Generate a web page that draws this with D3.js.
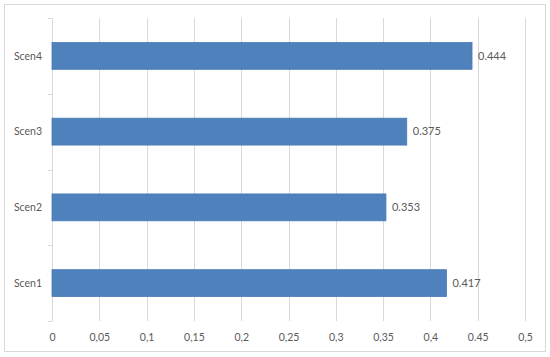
<!DOCTYPE html>
<html>
<head>
<meta charset="utf-8">
<script src="https://cdn.jsdelivr.net/npm/d3@7/dist/d3.min.js"></script>
<style>
  html, body { margin: 0; padding: 0; background: #fff; }
  svg { display: block; }
  text { font-family: Lato, "Open Sans", sans-serif; fill: #595959; }
</style>
</head>
<body>
<svg id="chart" width="550" height="357"></svg>
<script>
const categories = ["Scen1", "Scen2", "Scen3", "Scen4"];
const values = [0.417, 0.353, 0.375, 0.444];
const valueLabels = ["0.417", "0.353", "0.375", "0.444"];
const tickValues = [0, 0.05, 0.1, 0.15, 0.2, 0.25, 0.3, 0.35, 0.4, 0.45, 0.5];
const tickLabels = ["0", "0,05", "0,1", "0,15", "0,2", "0,25", "0,3", "0,35", "0,4", "0.45", "0,5"];

(function () {
const svg = d3.select("#chart");

// outer border
svg.append("rect")
  .attr("x", 4.5).attr("y", 4.5)
  .attr("width", 541).attr("height", 347)
  .attr("fill", "#fff").attr("stroke", "#d9d9d9").attr("stroke-width", 1);

const pLeft = 52, pRight = 525, pTop = 18, pBottom = 321;

const x = d3.scaleLinear().domain([0, 0.5]).range([pLeft, pRight]);
const y = d3.scaleBand()
  .domain(categories.slice().reverse())
  .range([pTop, pBottom])
  .paddingInner(0.645)
  .paddingOuter(0.3225);

// gridlines
svg.append("g")
  .selectAll("line")
  .data(tickValues)
  .join("line")
  .attr("x1", d => Math.round(x(d)) + 0.5)
  .attr("x2", d => Math.round(x(d)) + 0.5)
  .attr("y1", pTop)
  .attr("y2", pBottom)
  .attr("stroke", "#d9d9d9")
  .attr("stroke-width", 1);

// category boundary ticks on the left axis
const step = (pBottom - pTop) / categories.length;
const boundaries = d3.range(categories.length + 1).map(i => pTop + i * step);
svg.append("g")
  .selectAll("line")
  .data(boundaries)
  .join("line")
  .attr("x1", pLeft - 4)
  .attr("x2", pLeft)
  .attr("y1", d => Math.round(d) + 0.5)
  .attr("y2", d => Math.round(d) + 0.5)
  .attr("stroke", "#d9d9d9");

// bars
const data = categories.map((c, i) => ({ c, v: values[i], l: valueLabels[i] }));
svg.append("g")
  .selectAll("rect")
  .data(data)
  .join("rect")
  .attr("x", x(0))
  .attr("y", d => y(d.c))
  .attr("width", d => x(d.v) - x(0))
  .attr("height", y.bandwidth())
  .attr("fill", "#4f81bd")
  .attr("stroke", "#4a7ab5")
  .attr("stroke-width", 0.8);

// value labels
svg.append("g")
  .selectAll("text")
  .data(data)
  .join("text")
  .attr("x", d => x(d.v) + 6)
  .attr("y", d => y(d.c) + y.bandwidth() / 2)
  .attr("dy", "0.35em")
  .attr("font-size", 11)
  .text(d => d.l);

// category labels
svg.append("g")
  .selectAll("text")
  .data(categories)
  .join("text")
  .attr("x", 42)
  .attr("y", d => y(d) + y.bandwidth() / 2)
  .attr("dy", "0.35em")
  .attr("text-anchor", "end")
  .attr("font-size", 10.5)
  .text(d => d);

// x axis
const xAxis = d3.axisBottom(x)
  .tickValues(tickValues)
  .tickFormat((d, i) => tickLabels[i])
  .tickSize(0)
  .tickPadding(0);
const gx = svg.append("g")
  .attr("transform", `translate(0, ${pBottom})`)
  .call(xAxis);
gx.select(".domain").remove();
gx.selectAll("text")
  .attr("y", 20)
  .attr("dy", "0")
  .attr("font-size", 10.5)
  .attr("font-family", "Lato, 'Open Sans', sans-serif")
  .attr("fill", "#595959");
})();
</script>
</body>
</html>
